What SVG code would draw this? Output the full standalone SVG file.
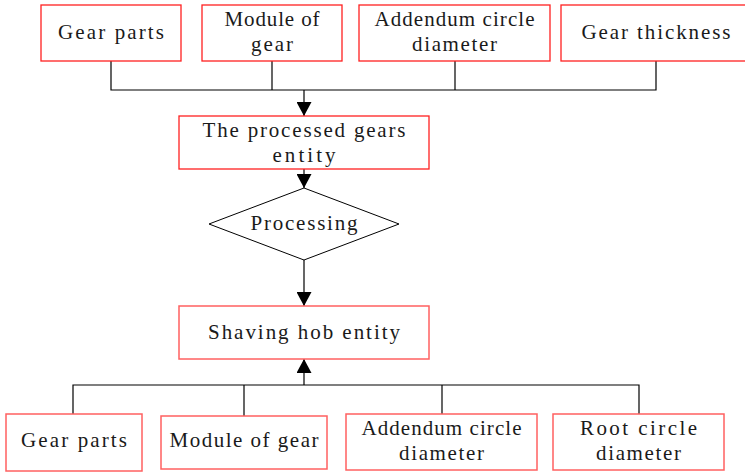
<svg xmlns="http://www.w3.org/2000/svg" width="745" height="472" viewBox="0 0 745 472">
<defs>
<marker id="arr" viewBox="0 0 14 15" refX="14" refY="7.5" markerWidth="14" markerHeight="15" markerUnits="userSpaceOnUse" orient="auto">
<path d="M0,0 L14,7.5 L0,15 Z" fill="#000"/>
</marker>
<style>
.box{fill:#fff;stroke:#ff2020;stroke-width:1.3}
.box2{fill:#fff;stroke:#ff6060;stroke-width:1.5}
.dia{fill:#fff;stroke:#000;stroke-width:1}
.ln{fill:none;stroke:#000;stroke-width:1.2}
text{font-family:"Liberation Serif","Times New Roman",serif;font-size:21px;fill:#1a1a1a;text-anchor:middle}
</style>
</defs>
<rect width="745" height="472" fill="#fff"/>
<g id="connectors">
<polyline class="ln" points="111,61 111,90 656,90 656,61"/>
<line class="ln" x1="272" y1="61" x2="272" y2="90"/>
<line class="ln" x1="455" y1="61" x2="455" y2="90"/>
<line class="ln" x1="304" y1="90" x2="304" y2="116" marker-end="url(#arr)"/>
<line class="ln" x1="304" y1="169" x2="304" y2="188" marker-end="url(#arr)"/>
<line class="ln" x1="304" y1="260" x2="304" y2="306" marker-end="url(#arr)"/>
<polyline class="ln" points="73,414 73,385 639,385 639,414"/>
<line class="ln" x1="244" y1="385" x2="244" y2="416"/>
<line class="ln" x1="442" y1="385" x2="442" y2="414"/>
<line class="ln" x1="304" y1="385" x2="304" y2="359" marker-end="url(#arr)"/>
</g>
<g id="n1"><rect class="box" x="41" y="5" width="140" height="56"/><text x="111" y="39" textLength="106" lengthAdjust="spacing">Gear parts</text></g>
<g id="n2"><rect class="box" x="202" y="5" width="140" height="56"/><text x="272" y="26" textLength="95" lengthAdjust="spacing">Module of</text><text x="272" y="51" textLength="42" lengthAdjust="spacing">gear</text></g>
<g id="n3"><rect class="box" x="359" y="5" width="191" height="56"/><text x="454.5" y="26" textLength="160" lengthAdjust="spacing">Addendum circle</text><text x="454.5" y="51" textLength="85" lengthAdjust="spacing">diameter</text></g>
<g id="n4"><rect class="box" x="561" y="5" width="190" height="56"/><text x="656" y="39" textLength="149" lengthAdjust="spacing">Gear thickness</text></g>
<g id="n5"><rect class="box" x="179" y="116" width="250" height="53"/><text x="304" y="137" textLength="203" lengthAdjust="spacing">The processed gears</text><text x="304" y="162" textLength="63" lengthAdjust="spacing">entity</text></g>
<g id="n6"><polygon class="dia" points="304,188 399,224 304,260 209,224"/><text x="304" y="230" textLength="107" lengthAdjust="spacing">Processing</text></g>
<g id="n7"><rect class="box2" x="179" y="306" width="250" height="53"/><text x="304" y="339" textLength="192" lengthAdjust="spacing">Shaving hob entity</text></g>
<g id="n8"><rect class="box2" x="6" y="414" width="136" height="57"/><text x="74" y="447" textLength="106" lengthAdjust="spacing">Gear parts</text></g>
<g id="n9"><rect class="box2" x="161" y="416" width="166" height="53"/><text x="244" y="447" textLength="149" lengthAdjust="spacing">Module of gear</text></g>
<g id="n10"><rect class="box2" x="346" y="414" width="191" height="56"/><text x="441.5" y="435" textLength="160" lengthAdjust="spacing">Addendum circle</text><text x="441.5" y="460" textLength="85" lengthAdjust="spacing">diameter</text></g>
<g id="n11"><rect class="box2" x="553" y="414" width="171" height="56"/><text x="638.5" y="435" textLength="117" lengthAdjust="spacing">Root circle</text><text x="638.5" y="460" textLength="85" lengthAdjust="spacing">diameter</text></g>
</svg>
